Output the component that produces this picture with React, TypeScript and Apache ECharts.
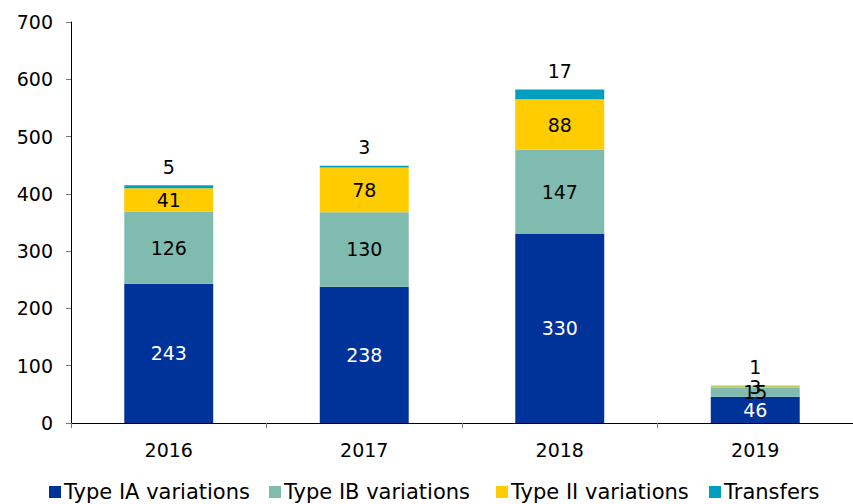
import React, { useEffect, useRef } from "react";
import * as echarts from "echarts";

const years = ["2016", "2017", "2018", "2019"];
const typeIA = [243, 238, 330, 46];
const typeIB = [126, 130, 147, 15];
const typeII = [41, 78, 88, 3];
const transfers = [5, 3, 17, 1];
const seriesNames = ["Type IA variations", "Type IB variations", "Type II variations", "Transfers"];
const yTicks = { min: 0, max: 700, interval: 100 };

const FONT = "DejaVu Sans";
const legendLefts = [49, 269, 496, 709];

export default function App() {
  const ref = useRef<HTMLDivElement>(null);
  useEffect(() => {
    if (!ref.current) return;
    const chart = echarts.init(ref.current, null, { renderer: "svg" });
    const mk = (name: string, data: number[], color: string, labelColor: string, pos: any) => ({
      name,
      type: "bar",
      stack: "total",
      data,
      barWidth: "45.5%",
      itemStyle: { color },
      label: {
        show: true,
        position: pos,
        distance: 9,
        color: labelColor,
        fontFamily: FONT,
        fontSize: 19,
      },
    });
    chart.setOption({
      animation: false,
      grid: { left: 71, right: -9, top: 22, bottom: 81, containLabel: false },
      legend: seriesNames.map((n, i) => ({
        top: 480,
        left: legendLefts[i],
        itemWidth: 12,
        itemHeight: 12,
        itemGap: 0,
        padding: 0,
        icon: "rect",
        textStyle: { fontFamily: FONT, fontSize: 21, lineHeight: 24, color: "#000", padding: [0, 0, 0, -2] },
        data: [n],
      })),
      xAxis: {
        type: "category",
        data: years,
        axisLine: { show: true, lineStyle: { color: "#000", width: 1 } },
        axisTick: { show: true, alignWithLabel: false, length: 5, lineStyle: { color: "#777" } },
        axisLabel: { color: "#000", fontFamily: FONT, fontSize: 19, margin: 17 },
      },
      yAxis: {
        type: "value",
        min: yTicks.min,
        max: yTicks.max,
        interval: yTicks.interval,
        splitLine: { show: false },
        axisLine: { show: true, lineStyle: { color: "#000", width: 1 } },
        axisTick: { show: true, length: 5, lineStyle: { color: "#777" } },
        axisLabel: { color: "#000", fontFamily: FONT, fontSize: 19, margin: 18 },
      },
      series: [
        mk(seriesNames[0], typeIA, "#00339A", "#fff", "inside"),
        mk(seriesNames[1], typeIB, "#7FBBAF", "#000", "inside"),
        mk(seriesNames[2], typeII, "#FFCC00", "#000", "inside"),
        mk(seriesNames[3], transfers, "#009EBF", "#000", "top"),
      ],
    });
    return () => chart.dispose();
  }, []);
  return <div ref={ref} style={{ width: 853, height: 504, position: "absolute", left: 0, top: 0 }} />;
}
